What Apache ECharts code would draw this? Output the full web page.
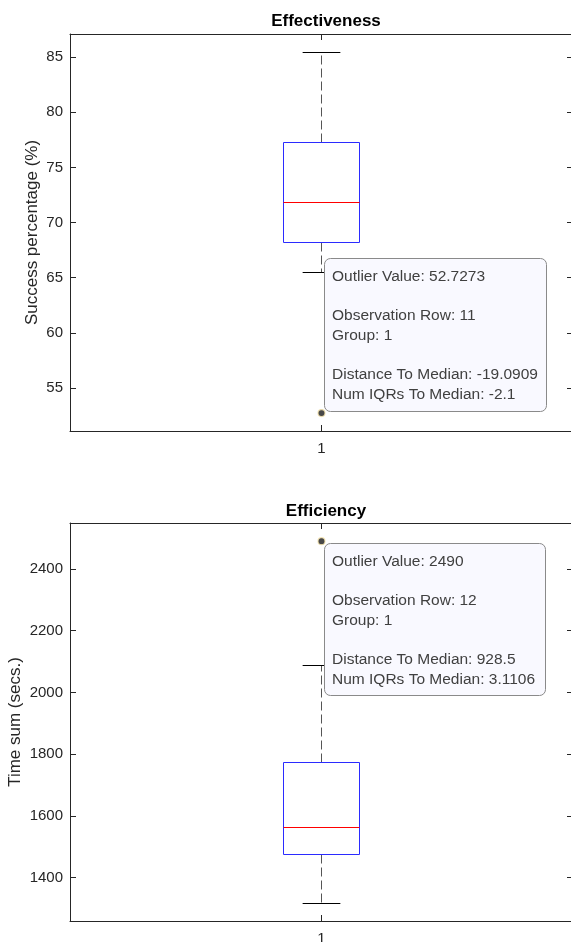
<!DOCTYPE html>
<html>
<head>
<meta charset="utf-8">
<script src="https://cdn.jsdelivr.net/npm/echarts@6/dist/echarts.min.js"></script>
<style>
  html, body { margin: 0; padding: 0; background: #fff; }
  #main { width: 571px; height: 942px; }
</style>
</head>
<body>
<div id="main"></div>
<script>
// groups on the x axis
var categories = ['1'];

// box stats: [whisker low, q1, median, q3, whisker high]
var effStats = [65.4545, 68.1818, 71.8182, 77.2727, 85.4545];
var effOutliers = [52.7273];
var effTicks = [55, 60, 65, 70, 75, 80, 85];

var timeStats = [1317, 1475, 1561.5, 1773.5, 2088];
var timeOutliers = [2490];
var timeTicks = [1400, 1600, 1800, 2000, 2200, 2400];

// data tip texts
var effTip = ['Outlier Value: 52.7273', '', 'Observation Row: 11', 'Group: 1', '',
  'Distance To Median: -19.0909', 'Num IQRs To Median: -2.1'];
var timeTip = ['Outlier Value: 2490', '', 'Observation Row: 12', 'Group: 1', '',
  'Distance To Median: 928.5', 'Num IQRs To Median: 3.1106'];

var FONT = "'Liberation Sans', Arial, Helvetica, sans-serif";
var AX = '#262626';

var chart = echarts.init(document.getElementById('main'), null, { renderer: 'canvas' });

function crisp(v) {
  return Math.round(v - 0.5) + 0.5;
}

function renderBox(params, api) {
  var x = api.value(0);
  var lo = api.coord([x, api.value(1)]);
  var q1 = api.coord([x, api.value(2)]);
  var md = api.coord([x, api.value(3)]);
  var q3 = api.coord([x, api.value(4)]);
  var hi = api.coord([x, api.value(5)]);
  var band = api.size([1, 0])[0];
  var cx = crisp(lo[0]);
  var bw = band * 0.15;
  var cw = band * 0.075;
  var bl = crisp(cx - bw / 2), br = crisp(cx + bw / 2);
  var dashStyle = { stroke: '#555', lineWidth: 1, lineDash: [9, 4] };
  return {
    type: 'group',
    children: [
      { type: 'line', shape: { x1: cx, y1: crisp(q3[1]), x2: cx, y2: crisp(hi[1]) }, style: dashStyle },
      { type: 'line', shape: { x1: cx, y1: crisp(q1[1]), x2: cx, y2: crisp(lo[1]) }, style: dashStyle },
      { type: 'line', shape: { x1: cx - cw / 2, y1: crisp(hi[1]), x2: cx + cw / 2, y2: crisp(hi[1]) }, style: { stroke: '#000', lineWidth: 1 } },
      { type: 'line', shape: { x1: cx - cw / 2, y1: crisp(lo[1]), x2: cx + cw / 2, y2: crisp(lo[1]) }, style: { stroke: '#000', lineWidth: 1 } },
      { type: 'rect', shape: { x: bl, y: crisp(q3[1]), width: br - bl, height: crisp(q1[1]) - crisp(q3[1]) }, style: { fill: null, stroke: '#2b2bff', lineWidth: 1 } },
      { type: 'line', shape: { x1: bl, y1: crisp(md[1]), x2: br, y2: crisp(md[1]) }, style: { stroke: '#ff0000', lineWidth: 1 } }
    ]
  };
}

function yAxes(gridIndex, min, max, ticks, name, gap) {
  return [{
    type: 'value', gridIndex: gridIndex, min: min, max: max, position: 'left',
    name: name, nameLocation: 'middle', nameGap: gap, nameMoveOverlap: false,
    nameTextStyle: { fontFamily: FONT, fontSize: 17, color: AX },
    axisLine: { show: true, lineStyle: { color: AX, width: 1 } },
    axisTick: { show: true, inside: true, length: 6, customValues: ticks, lineStyle: { color: AX } },
    axisLabel: {
      customValues: ticks, fontFamily: FONT, fontSize: 15, color: AX, margin: 7,
      formatter: function (v) { return String(v); }
    },
    splitLine: { show: false }
  }, {
    type: 'value', gridIndex: gridIndex, min: min, max: max, position: 'right',
    axisLine: { show: true, lineStyle: { color: AX, width: 1 } },
    axisTick: { show: true, inside: true, length: 6, customValues: ticks, lineStyle: { color: AX } },
    axisLabel: { show: false },
    splitLine: { show: false }
  }];
}

function xAxes(gridIndex) {
  return [{
    type: 'category', gridIndex: gridIndex, data: categories, position: 'bottom',
    axisLine: { show: true, lineStyle: { color: AX, width: 1 } },
    axisTick: { show: true, inside: true, length: 6, alignWithLabel: true, lineStyle: { color: AX } },
    axisLabel: { fontFamily: FONT, fontSize: 15, color: AX, margin: 10 },
    splitLine: { show: false }
  }, {
    type: 'category', gridIndex: gridIndex, data: categories, position: 'top',
    axisLine: { show: true, lineStyle: { color: AX, width: 1 } },
    axisTick: { show: true, inside: true, length: 6, alignWithLabel: true, lineStyle: { color: AX } },
    axisLabel: { show: false },
    splitLine: { show: false }
  }];
}

var option = {
  animation: false,
  backgroundColor: '#fff',
  title: [{
    text: 'Effectiveness', left: 321, top: 8, textAlign: 'center',
    textStyle: { fontFamily: FONT, fontSize: 17, fontWeight: 'bold', color: '#000' }
  }, {
    text: 'Efficiency', left: 321, top: 498, textAlign: 'center',
    textStyle: { fontFamily: FONT, fontSize: 17, fontWeight: 'bold', color: '#000' }
  }],
  grid: [
    { left: 70, top: 34, width: 503, height: 397, outerBoundsMode: 'none', containLabel: false },
    { left: 70, top: 523, width: 503, height: 398, outerBoundsMode: 'none', containLabel: false }
  ],
  xAxis: xAxes(0).concat(xAxes(1)),
  yAxis: yAxes(0, 51.1, 87.1, effTicks, 'Success percentage (%)', 29)
    .concat(yAxes(1, 1259.6, 2549, timeTicks, 'Time sum (secs.)', 46)),
  series: [{
    type: 'custom', xAxisIndex: 0, yAxisIndex: 0,
    renderItem: renderBox,
    data: categories.map(function (c, i) { return [i].concat(effStats); })
  }, {
    type: 'custom', xAxisIndex: 2, yAxisIndex: 2,
    renderItem: renderBox,
    data: categories.map(function (c, i) { return [i].concat(timeStats); })
  }, {
    type: 'scatter', xAxisIndex: 0, yAxisIndex: 0,
    symbol: 'circle', symbolSize: 7,
    itemStyle: { color: '#1a1a1a', borderColor: '#f5e4ad', borderWidth: 1.2 },
    data: effOutliers.map(function (v) { return [categories[0], v]; })
  }, {
    type: 'scatter', xAxisIndex: 2, yAxisIndex: 2,
    symbol: 'circle', symbolSize: 7,
    itemStyle: { color: '#1a1a1a', borderColor: '#f5e4ad', borderWidth: 1.2 },
    data: timeOutliers.map(function (v) { return [categories[0], v]; })
  }]
};

chart.setOption(option);

// data tips anchored to the outlier points
var pEff = chart.convertToPixel({ xAxisIndex: 0, yAxisIndex: 0 }, [categories[0], effOutliers[0]]);
var pTime = chart.convertToPixel({ xAxisIndex: 2, yAxisIndex: 2 }, [categories[0], timeOutliers[0]]);

function tip(x, y, w, h, lines) {
  return {
    type: 'group', x: x, y: y, z: 100,
    children: [{
      type: 'rect', z: 100, shape: { x: 0.5, y: 0.5, width: w, height: h, r: 6 },
      style: { fill: '#f9f9ff', stroke: '#8a8a8a', lineWidth: 1 }
    }, {
      type: 'text', z: 101, x: 8, y: 8.5,
      style: {
        text: lines.join('\n'), fontFamily: FONT, fontSize: 15.5, lineHeight: 19.7,
        fill: '#404040'
      }
    }]
  };
}

chart.setOption({
  graphic: [
    tip(Math.round(pEff[0]) + 2, Math.round(pEff[1]) - 155, 222, 153, effTip),
    tip(Math.round(pTime[0]) + 2, Math.round(pTime[1]) + 2, 221, 152, timeTip)
  ]
});
</script>
</body>
</html>
